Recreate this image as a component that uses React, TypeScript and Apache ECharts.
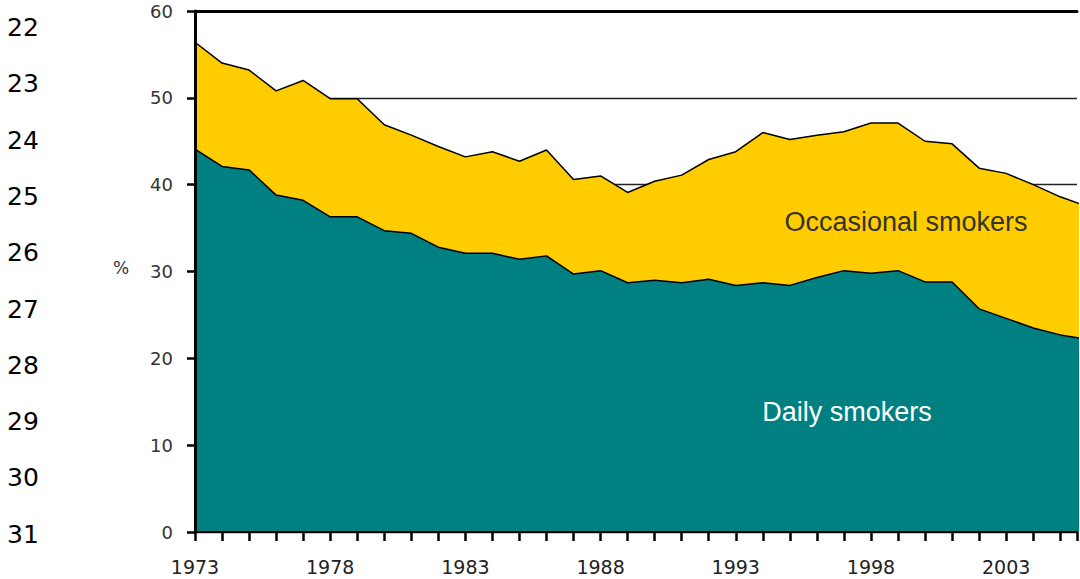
import React, { useEffect, useRef } from "react";
import * as echarts from "echarts";

const years = [
  1973, 1974, 1975, 1976, 1977, 1978, 1979, 1980, 1981, 1982, 1983, 1984,
  1985, 1986, 1987, 1988, 1989, 1990, 1991, 1992, 1993, 1994, 1995, 1996,
  1997, 1998, 1999, 2000, 2001, 2002, 2003, 2004, 2005, 2006,
];

// top of the stack (daily + occasional smokers), %
const totalSmokers = [
  56.4, 54.0, 53.2, 50.8, 52.0, 49.9, 49.9, 46.9, 45.7, 44.4, 43.2, 43.8,
  42.7, 44.0, 40.6, 41.0, 39.1, 40.4, 41.1, 42.9, 43.8, 46.0, 45.2, 45.7,
  46.1, 47.1, 47.1, 45.0, 44.7, 41.9, 41.3, 40.0, 38.6, 37.5,
];

// daily smokers, %
const dailySmokers = [
  44.1, 42.1, 41.7, 38.8, 38.2, 36.3, 36.3, 34.7, 34.4, 32.8, 32.1, 32.1,
  31.4, 31.8, 29.7, 30.1, 28.7, 29.0, 28.7, 29.1, 28.4, 28.7, 28.4, 29.3,
  30.1, 29.8, 30.1, 28.8, 28.8, 25.7, 24.6, 23.5, 22.7, 22.2,
];

const lineNumbers = ["22", "23", "24", "25", "26", "27", "28", "29", "30", "31"];

const seriesNames = ["Occasional smokers", "Daily smokers"];

export default function App() {
  const ref = useRef<HTMLDivElement>(null);

  useEffect(() => {
    if (!ref.current) return;
    const chart = echarts.init(ref.current, null, { renderer: "svg" });

    const totalData = years.map((y, i) => [y, totalSmokers[i]]);
    const dailyData = years.map((y, i) => [y, dailySmokers[i]]);

    const xMin = 1973;
    const xMax = 2005.62;

    const graphics: any[] = lineNumbers.map((t, i) => ({
      type: "text",
      x: 7,
      y: 27.5 + i * 56.3,
      silent: true,
      style: {
        text: t,
        font: '25px "DejaVu Sans"',
        fill: "#000",
        textAlign: "left",
        textVerticalAlign: "middle",
      },
    }));
    graphics.push({
      type: "text",
      x: 121,
      y: 268,
      silent: true,
      style: {
        text: "%",
        font: '17px "DejaVu Sans"',
        fill: "#333",
        textAlign: "center",
        textVerticalAlign: "middle",
      },
    });
    graphics.push({
      type: "text",
      x: 906,
      y: 222,
      z: 10,
      silent: true,
      style: {
        text: seriesNames[0],
        font: '27px "Liberation Sans"',
        fill: "#333",
        textAlign: "center",
        textVerticalAlign: "middle",
      },
    });
    graphics.push({
      type: "text",
      x: 847,
      y: 412,
      z: 10,
      silent: true,
      style: {
        text: seriesNames[1],
        font: '27px "Liberation Sans"',
        fill: "#fff",
        textAlign: "center",
        textVerticalAlign: "middle",
      },
    });

    chart.setOption({
      animation: false,
      backgroundColor: "#fff",
      grid: { left: 195, right: 0, top: 11, bottom: 47 },
      xAxis: [
        {
          type: "value",
          min: xMin,
          max: xMax,
          interval: 1,
          position: "bottom",
          axisLine: { show: true, onZero: false, lineStyle: { color: "#000", width: 2 } },
          axisTick: {
            show: true,
            inside: false,
            length: 9,
            lineStyle: { color: "#000", width: 2.5 },
          },
          axisLabel: {
            margin: 25,
            fontFamily: "DejaVu Sans",
            fontSize: 19,
            color: "#222",
            formatter: (v: number) =>
              Number.isInteger(v) && (v - 1973) % 5 === 0 ? String(v) : "",
          },
          splitLine: { show: false },
          z: 5,
        },
        {
          type: "value",
          min: xMin,
          max: xMax,
          position: "top",
          axisLine: { show: true, onZero: false, lineStyle: { color: "#000", width: 3 } },
          axisTick: { show: false },
          axisLabel: { show: false },
          splitLine: { show: false },
          z: 5,
        },
      ],
      yAxis: [
        {
          type: "value",
          min: 0,
          max: 60,
          interval: 10,
          axisLine: { show: false },
          axisTick: { show: false },
          axisLabel: { show: false },
          splitLine: { show: true, lineStyle: { color: "#222", width: 1.3 } },
        },
        {
          type: "value",
          min: 0,
          max: 60,
          interval: 10,
          position: "left",
          axisLine: { show: true, onZero: false, lineStyle: { color: "#000", width: 3 } },
          axisTick: {
            show: true,
            inside: false,
            length: 8,
            lineStyle: { color: "#000", width: 2.5 },
          },
          axisLabel: {
            margin: 22,
            fontFamily: "DejaVu Sans",
            fontSize: 18,
            color: "#333",
          },
          splitLine: { show: false },
          z: 5,
        },
      ],
      graphic: graphics,
      series: [
        {
          name: seriesNames[0],
          type: "line",
          data: totalData,
          symbol: "none",
          clip: true,
          lineStyle: { color: "#000", width: 1.5 },
          areaStyle: { color: "#FFCC00", opacity: 1 },
          z: 2,
        },
        {
          name: seriesNames[1],
          type: "line",
          data: dailyData,
          symbol: "none",
          clip: true,
          lineStyle: { color: "#000", width: 1.5 },
          areaStyle: { color: "#008080", opacity: 1 },
          z: 3,
        },
      ],
    });

    return () => chart.dispose();
  }, []);

  return (
    <div
      ref={ref}
      style={{ position: "absolute", left: 0, top: 0, width: 1080, height: 579 }}
    />
  );
}
